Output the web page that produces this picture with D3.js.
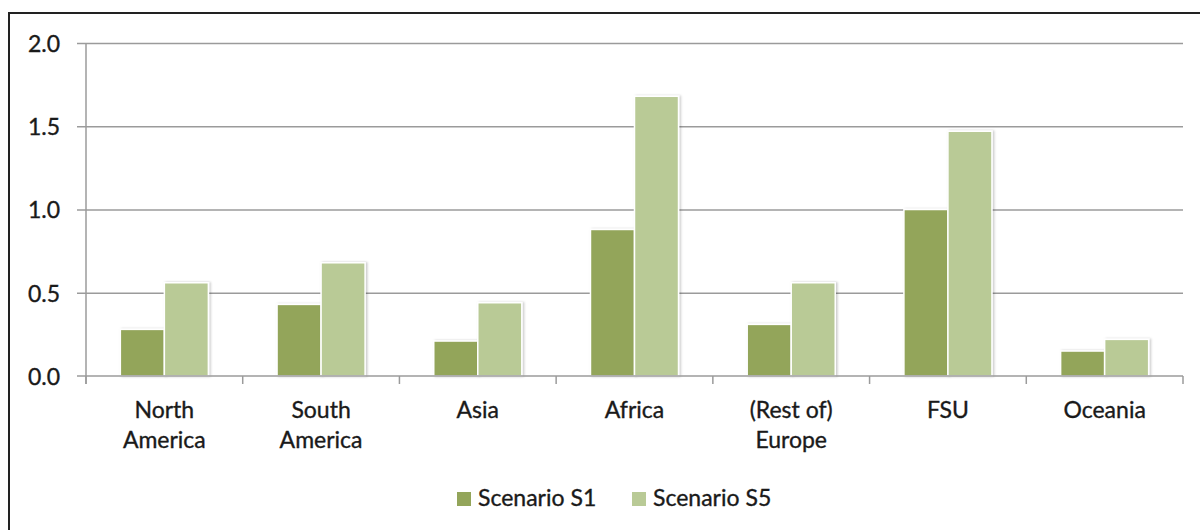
<!DOCTYPE html>
<html>
<head>
<meta charset="utf-8">
<script src="https://cdn.jsdelivr.net/npm/d3@7"></script>
<style>
  html, body { margin: 0; padding: 0; background: #fff; }
  svg { display: block; }
  text { font-family: Lato, "Noto Sans", sans-serif; fill: #1a1a1a; stroke: #1a1a1a; stroke-width: 0.35px; }
</style>
</head>
<body>
<svg id="chart" width="1200" height="530"></svg>
<script>
// Regions (multi-line labels split on "\n")
const categories = ["North\nAmerica", "South\nAmerica", "Asia", "Africa", "(Rest of)\nEurope", "FSU", "Oceania"];
const seriesNames = ["Scenario S1", "Scenario S5"];
const scenarioS1 = [0.28, 0.43, 0.21, 0.88, 0.31, 1.00, 0.15];
const scenarioS5 = [0.56, 0.68, 0.44, 1.68, 0.56, 1.47, 0.22];
const yTicks = [0.0, 0.5, 1.0, 1.5, 2.0];

const colors = ["#93a55a", "#b9ca96"];
const seriesValues = [scenarioS1, scenarioS5];

const svg = d3.select("#chart");
const W = 1200, H = 530;
const plot = { left: 86, right: 1183, top: 43, bottom: 376 };

// Frame around the whole chart area (runs off the right and bottom edges)
svg.append("rect")
  .attr("x", 9).attr("y", 13)
  .attr("width", W + 20).attr("height", H + 20)
  .attr("fill", "none").attr("stroke", "#222").attr("stroke-width", 2);

const defs = svg.append("defs");
const shadow = defs.append("filter").attr("id", "barShadow")
  .attr("x", "-20%").attr("y", "-20%").attr("width", "150%").attr("height", "140%");
shadow.append("feDropShadow")
  .attr("dx", 1.5).attr("dy", 0).attr("stdDeviation", 1.2)
  .attr("flood-color", "#000").attr("flood-opacity", 0.22);

const x = d3.scaleBand().domain(d3.range(categories.length))
  .range([plot.left, plot.right]).paddingInner(0).paddingOuter(0);
const xs = d3.scaleBand().domain(d3.range(seriesNames.length))
  .range([0, x.bandwidth()]).paddingInner(0).paddingOuter(0.78);
const y = d3.scaleLinear().domain([0, 2]).range([plot.bottom, plot.top]);

// Horizontal gridlines with short ticks to the left of the axis
const yAxis = d3.axisLeft(y).tickValues(yTicks)
  .tickSize(-(plot.right - plot.left + 9)).tickPadding(0).tickFormat(d3.format(".1f"));
const gy = svg.append("g").attr("transform", `translate(${plot.left - 9},0)`).call(yAxis);
gy.select(".domain").remove();
gy.selectAll(".tick line")
  .attr("x1", 0).attr("x2", plot.right - plot.left + 9)
  .attr("stroke", "#9b9b9b").attr("stroke-width", 1.5);
gy.selectAll(".tick line").filter(d => d === 0).remove();
gy.selectAll(".tick text")
  .attr("x", -17).attr("dy", "0.36em")
  .attr("text-anchor", "end")
  .style("font-family", "Lato, sans-serif").style("font-size", "23px")
  .attr("fill", "#1a1a1a").attr("stroke", "#1a1a1a").attr("stroke-width", 0.35);

// Vertical axis line
svg.append("line")
  .attr("x1", plot.left).attr("x2", plot.left)
  .attr("y1", plot.top).attr("y2", plot.bottom + 8)
  .attr("stroke", "#9b9b9b").attr("stroke-width", 1.5);

// Bars
const groups = svg.append("g").selectAll("g")
  .data(categories.map((c, i) => i))
  .join("g")
  .attr("transform", i => `translate(${x(i)},0)`);

groups.selectAll("rect")
  .data(i => seriesValues.map((vals, s) => ({ s, v: vals[i] })))
  .join("rect")
  .attr("x", d => xs(d.s))
  .attr("width", xs.bandwidth())
  .attr("y", d => y(d.v))
  .attr("height", d => y(0) - y(d.v))
  .attr("fill", d => colors[d.s])
  .attr("stroke", "#fff").attr("stroke-width", 1.5)
  .attr("filter", "url(#barShadow)");

// Category axis with boundary ticks
const xAxisLine = svg.append("g");
xAxisLine.append("line")
  .attr("x1", plot.left - 9).attr("x2", plot.right)
  .attr("y1", plot.bottom).attr("y2", plot.bottom)
  .attr("stroke", "#9b9b9b").attr("stroke-width", 1.5);
const boundaries = d3.range(categories.length + 1).map(i => plot.left + i * x.step());
xAxisLine.selectAll("line.b").data(boundaries).join("line")
  .attr("class", "b")
  .attr("x1", d => d).attr("x2", d => d)
  .attr("y1", plot.bottom).attr("y2", plot.bottom + 8)
  .attr("stroke", "#9b9b9b").attr("stroke-width", 1.5);

// Category labels
const labels = svg.append("g").selectAll("text")
  .data(categories.map((c, i) => ({ c, i })))
  .join("text")
  .attr("text-anchor", "middle")
  .style("font-size", "23px")
  .attr("x", d => x(d.i) + x.bandwidth() / 2)
  .attr("y", 418);
labels.selectAll("tspan")
  .data(d => d.c.split("\n").map(t => ({ t, x: x(d.i) + x.bandwidth() / 2 })))
  .join("tspan")
  .attr("x", d => d.x)
  .attr("dy", (d, j) => j === 0 ? 0 : 30)
  .text(d => d.t);

// Legend
const legendItems = [{ name: seriesNames[0], sx: 457 }, { name: seriesNames[1], sx: 632 }];
const legend = svg.append("g");
legendItems.forEach((it, s) => {
  legend.append("rect")
    .attr("x", it.sx).attr("y", 492).attr("width", 14).attr("height", 14)
    .attr("fill", colors[s]);
  legend.append("text")
    .attr("x", it.sx + 21).attr("y", 506)
    .style("font-size", "23px")
    .text(it.name);
});
</script>
</body>
</html>
